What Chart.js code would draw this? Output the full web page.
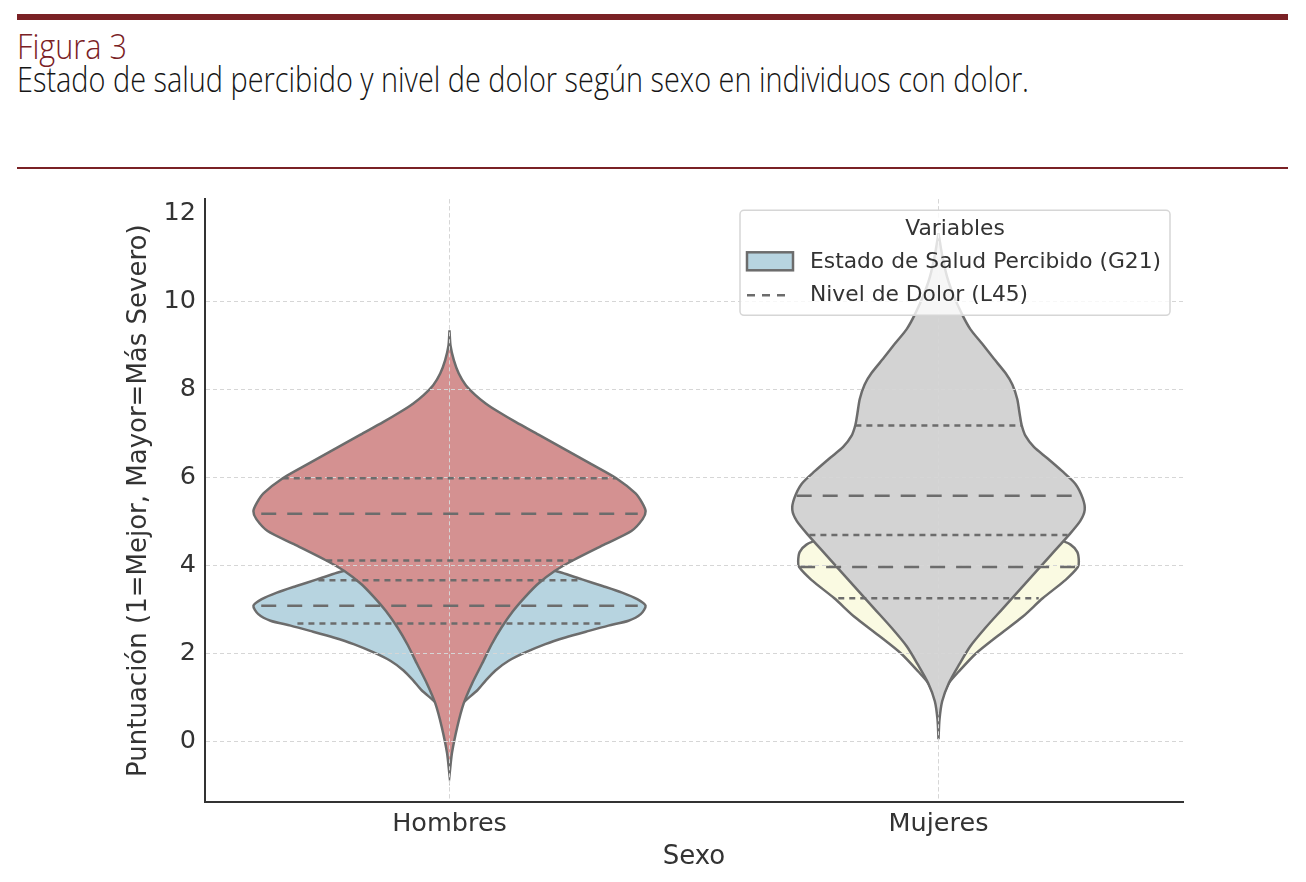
<!DOCTYPE html>
<html lang="es">
<head>
<meta charset="utf-8">
<title>Figura 3</title>
<script src="https://cdn.jsdelivr.net/npm/chart.js@4.4.1/dist/chart.umd.min.js"></script>
<style>
  body { margin: 0; background: #fff; width: 1306px; height: 882px; position: relative; overflow: hidden; font-family: "Open Sans", sans-serif; }
  .barra { position: absolute; left: 17px; width: 1271px; background: #7a2125; }
  .fig-num, .fig-title { position: absolute; left: 17px; font-size: 34px; line-height: 34px; font-weight: 300; white-space: nowrap; transform-origin: 0 0; }
  .fig-num { top: 29px; color: #7a2125; }
  .fig-title { top: 62px; color: #151515; }
  #chart-wrap { position: absolute; left: 0; top: 175px; width: 1306px; height: 707px; }
</style>
</head>
<body>
<div class="barra" style="top:14px;height:6px"></div>
<div class="fig-num" data-w="110">Figura 3</div>
<div class="fig-title" data-w="1012">Estado de salud percibido y nivel de dolor según sexo en individuos con dolor.</div>
<div class="barra" style="top:167px;height:2px"></div>
<div id="chart-wrap"><canvas id="grafico"></canvas></div>

<script>
// --- datos ---
const categorias = ['Hombres', 'Mujeres'];
const yTicks = [0, 2, 4, 6, 8, 10, 12];

// perfil de cada violin: puntuacion y semi-ancho (unidades del eje x)
const dolorHombresY = [9.34, 9.00, 8.66, 8.36, 8.10, 7.87, 7.68, 7.49, 7.26, 6.97, 6.63, 6.29, 5.98, 5.64, 5.42, 5.23, 5.05, 4.78, 4.48, 4.11, 3.87, 3.57, 3.26, 2.96, 2.58, 2.20, 1.75, 1.31, 0.86, 0.33, -0.27, -0.77];
const dolorHombresW = [0, 0.002, 0.009, 0.019, 0.033, 0.053, 0.074, 0.100, 0.135, 0.182, 0.237, 0.292, 0.341, 0.380, 0.394, 0.401, 0.395, 0.372, 0.318, 0.252, 0.215, 0.180, 0.153, 0.130, 0.106, 0.086, 0.066, 0.046, 0.029, 0.016, 0.005, 0];

const saludHombresY = [4.70, 4.40, 4.10, 3.83, 3.68, 3.53, 3.38, 3.23, 3.08, 2.89, 2.74, 2.63, 2.51, 2.36, 2.21, 2.02, 1.83, 1.61, 1.38, 1.16, 0.95, 0.75, 0.60];
const saludHombresW = [0, 0.070, 0.150, 0.230, 0.271, 0.313, 0.353, 0.384, 0.401, 0.391, 0.366, 0.325, 0.285, 0.237, 0.196, 0.155, 0.121, 0.094, 0.074, 0.057, 0.035, 0.015, 0];

const dolorMujeresY = [11.55, 11.05, 10.54, 10.13, 9.71, 9.37, 9.04, 8.70, 8.37, 8.11, 7.78, 7.44, 7.19, 6.94, 6.69, 6.44, 6.14, 5.85, 5.52, 5.26, 5.01, 4.68, 4.26, 3.84, 3.42, 3.00, 2.58, 2.16, 1.74, 1.32, 0.91, 0.49, 0.05];
const dolorMujeresW = [0, 0.0075, 0.018, 0.031, 0.048, 0.065, 0.089, 0.113, 0.137, 0.151, 0.161, 0.166, 0.170, 0.178, 0.195, 0.222, 0.253, 0.280, 0.295, 0.299, 0.290, 0.266, 0.232, 0.198, 0.164, 0.130, 0.096, 0.065, 0.042, 0.021, 0.0075, 0.002, 0];

const saludMujeresY = [5.00, 4.85, 4.70, 4.60, 4.47, 4.30, 4.09, 3.96, 3.67, 3.25, 2.83, 2.41, 1.99, 1.58, 1.32, 1.00, 0.70];
const saludMujeresW = [0, 0.120, 0.210, 0.243, 0.270, 0.284, 0.287, 0.285, 0.260, 0.213, 0.172, 0.123, 0.076, 0.041, 0.021, 0.008, 0];

// lineas internas: [valor, semi-ancho, es mediana]
const cuartilesHombres = [[5.98, 0.341, false], [5.17, 0.385, true], [4.11, 0.252, false],
                          [3.66, 0.268, false], [3.08, 0.385, true], [2.68, 0.311, false]];
const cuartilesMujeres = [[7.18, 0.170, false], [5.58, 0.290, true], [4.69, 0.264, false],
                          [3.96, 0.283, true], [3.25, 0.205, false]];

const leyenda = ['Estado de Salud Percibido (G21)', 'Nivel de Dolor (L45)'];

// --- estilos ---
const BORDE = '#6c6c6c';
const GRID = '#d6d6d6';
const TEXTO = '#333333';
const FUENTE = "'DejaVu Sans', sans-serif";

// ajustar titulos a su ancho
document.querySelectorAll('[data-w]').forEach(el => {
  const w = el.getBoundingClientRect().width;
  el.style.transform = 'scaleX(' + (Number(el.dataset.w) / w) + ')';
});

function violin(centro, ys, ws, color, orden) {
  const izq = ys.map((y, i) => ({ x: centro - ws[i], y }));
  const der = ys.map((y, i) => ({ x: centro + ws[i], y })).reverse();
  return {
    data: izq.concat(der),
    fill: 'shape',
    backgroundColor: color,
    borderColor: BORDE,
    borderWidth: 2.5,
    pointRadius: 0,
    tension: 0.25,
    order: orden
  };
}

function cuartil(centro, [v, w, mediana]) {
  return {
    data: [{ x: centro - w, y: v }, { x: centro + w, y: v }],
    borderColor: BORDE,
    borderWidth: 2.5,
    borderDash: mediana ? [15, 11] : [6, 5],
    pointRadius: 0,
    fill: false,
    order: 0
  };
}

const datasets = [
  violin(0, saludHombresY, saludHombresW, '#b7d4e0', 40),
  violin(0, dolorHombresY, dolorHombresW, '#d49191', 30),
  violin(1, saludMujeresY, saludMujeresW, '#fafae2', 20),
  Object.assign(violin(1, dolorMujeresY, dolorMujeresW, '#d3d3d3', 10), { gridAfter: true }),
  ...cuartilesHombres.map(q => cuartil(0, q)),
  ...cuartilesMujeres.map(q => cuartil(1, q))
];

// la rejilla queda sobre los rellenos, como en matplotlib
const gridSobreRelleno = {
  id: 'gridSobreRelleno',
  afterDatasetDraw(chart, args) {
    if (!chart.data.datasets[args.index].gridAfter) return;
    chart.scales.x.drawGrid(chart.chartArea);
    chart.scales.y.drawGrid(chart.chartArea);
  }
};

const cajaLeyenda = {
  id: 'cajaLeyenda',
  afterDraw(chart) {
    const { ctx, chartArea } = chart;
    const w = 430, h = 105;
    const x0 = chartArea.right - 13 - w;
    const y0 = chartArea.top + 11;
    ctx.save();
    ctx.beginPath();
    ctx.roundRect(x0, y0, w, h, 4);
    ctx.fillStyle = 'rgba(255,255,255,0.8)';
    ctx.fill();
    ctx.strokeStyle = '#d6d6d6';
    ctx.lineWidth = 1.5;
    ctx.stroke();

    ctx.fillStyle = TEXTO;
    ctx.font = '21.8px ' + FUENTE;
    ctx.textBaseline = 'middle';
    ctx.textAlign = 'center';
    ctx.fillText('Variables', x0 + w / 2, y0 + 19);

    ctx.textAlign = 'left';
    ctx.fillStyle = '#b7d4e0';
    ctx.fillRect(x0 + 7, y0 + 42, 46, 18);
    ctx.strokeStyle = BORDE;
    ctx.lineWidth = 2.5;
    ctx.strokeRect(x0 + 7, y0 + 42, 46, 18);
    ctx.fillStyle = TEXTO;
    ctx.fillText(leyenda[0], x0 + 70, y0 + 52);

    ctx.beginPath();
    ctx.setLineDash([8, 7]);
    ctx.moveTo(x0 + 7, y0 + 85);
    ctx.lineTo(x0 + 46, y0 + 85);
    ctx.stroke();
    ctx.setLineDash([]);
    ctx.fillText(leyenda[1], x0 + 70, y0 + 85);
    ctx.restore();
  }
};

new Chart(document.getElementById('grafico'), {
  type: 'line',
  data: { datasets },
  plugins: [gridSobreRelleno, cajaLeyenda],
  options: {
    responsive: true,
    maintainAspectRatio: false,
    animation: false,
    layout: { padding: { left: 110, right: 123, top: 22, bottom: 0 } },
    plugins: { legend: { display: false }, tooltip: { enabled: false } },
    scales: {
      x: {
        type: 'linear',
        min: -0.5,
        max: 1.5,
        afterBuildTicks: s => { s.ticks = categorias.map((c, i) => ({ value: i })); },
        afterFit: s => { s.height = 80; },
        ticks: {
          callback: v => categorias[v],
          color: TEXTO,
          font: { family: FUENTE, size: 25.5 },
          padding: 7,
          maxRotation: 0
        },
        grid: { color: GRID, lineWidth: 1, drawTicks: false },
        border: { color: '#333', width: 2, dash: [4, 3] },
        title: { display: true, text: 'Sexo', color: TEXTO, font: { family: FUENTE, size: 26 }, padding: { bottom: 9 } }
      },
      y: {
        min: -1.38,
        max: 12.32,
        afterBuildTicks: s => { s.ticks = yTicks.map(v => ({ value: v })); },
        afterFit: s => { s.width = 95; },
        ticks: { color: TEXTO, font: { family: FUENTE, size: 25.5 }, padding: 9 },
        grid: {
          color: c => (c.tick && c.tick.value === yTicks[yTicks.length - 1]) ? 'rgba(0,0,0,0)' : GRID,
          lineWidth: 1,
          drawTicks: false
        },
        border: { color: '#333', width: 2, dash: [4, 3] },
        title: { display: true, text: 'Puntuación (1=Mejor, Mayor=Más Severo)', color: TEXTO, font: { family: FUENTE, size: 26 }, padding: { top: 14 } }
      }
    }
  }
});
</script>
</body>
</html>
